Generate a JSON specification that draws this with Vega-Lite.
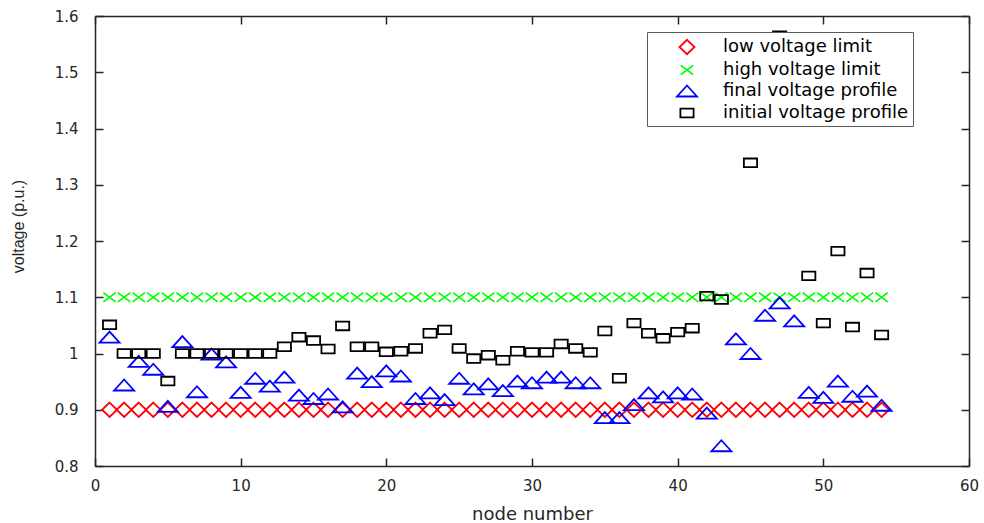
{
  "$schema": "https://vega.github.io/schema/vega-lite/v6.json",
  "width": 874,
  "height": 450,
  "autosize": {"type": "none"},
  "padding": {"left": 95, "top": 16, "right": 15, "bottom": 57},
  "background": "white",
  "config": {
    "view": {"stroke": null},
    "axis": {"grid": false, "domainColor": "#262626", "domainWidth": 1.5, "tickColor": "#262626", "tickWidth": 1.5, "tickSize": -8, "labelColor": "#262626", "titleColor": "#262626", "labelFont": "DejaVu Sans", "labelFontSize": 15, "titleFontWeight": "normal"}
  },
  "data": {"values": [
    {"n":1,"v":0.9,"s":"low voltage limit"},{"n":2,"v":0.9,"s":"low voltage limit"},{"n":3,"v":0.9,"s":"low voltage limit"},{"n":4,"v":0.9,"s":"low voltage limit"},{"n":5,"v":0.9,"s":"low voltage limit"},{"n":6,"v":0.9,"s":"low voltage limit"},{"n":7,"v":0.9,"s":"low voltage limit"},{"n":8,"v":0.9,"s":"low voltage limit"},{"n":9,"v":0.9,"s":"low voltage limit"},{"n":10,"v":0.9,"s":"low voltage limit"},
    {"n":11,"v":0.9,"s":"low voltage limit"},{"n":12,"v":0.9,"s":"low voltage limit"},{"n":13,"v":0.9,"s":"low voltage limit"},{"n":14,"v":0.9,"s":"low voltage limit"},{"n":15,"v":0.9,"s":"low voltage limit"},{"n":16,"v":0.9,"s":"low voltage limit"},{"n":17,"v":0.9,"s":"low voltage limit"},{"n":18,"v":0.9,"s":"low voltage limit"},{"n":19,"v":0.9,"s":"low voltage limit"},{"n":20,"v":0.9,"s":"low voltage limit"},
    {"n":21,"v":0.9,"s":"low voltage limit"},{"n":22,"v":0.9,"s":"low voltage limit"},{"n":23,"v":0.9,"s":"low voltage limit"},{"n":24,"v":0.9,"s":"low voltage limit"},{"n":25,"v":0.9,"s":"low voltage limit"},{"n":26,"v":0.9,"s":"low voltage limit"},{"n":27,"v":0.9,"s":"low voltage limit"},{"n":28,"v":0.9,"s":"low voltage limit"},{"n":29,"v":0.9,"s":"low voltage limit"},{"n":30,"v":0.9,"s":"low voltage limit"},
    {"n":31,"v":0.9,"s":"low voltage limit"},{"n":32,"v":0.9,"s":"low voltage limit"},{"n":33,"v":0.9,"s":"low voltage limit"},{"n":34,"v":0.9,"s":"low voltage limit"},{"n":35,"v":0.9,"s":"low voltage limit"},{"n":36,"v":0.9,"s":"low voltage limit"},{"n":37,"v":0.9,"s":"low voltage limit"},{"n":38,"v":0.9,"s":"low voltage limit"},{"n":39,"v":0.9,"s":"low voltage limit"},{"n":40,"v":0.9,"s":"low voltage limit"},
    {"n":41,"v":0.9,"s":"low voltage limit"},{"n":42,"v":0.9,"s":"low voltage limit"},{"n":43,"v":0.9,"s":"low voltage limit"},{"n":44,"v":0.9,"s":"low voltage limit"},{"n":45,"v":0.9,"s":"low voltage limit"},{"n":46,"v":0.9,"s":"low voltage limit"},{"n":47,"v":0.9,"s":"low voltage limit"},{"n":48,"v":0.9,"s":"low voltage limit"},{"n":49,"v":0.9,"s":"low voltage limit"},{"n":50,"v":0.9,"s":"low voltage limit"},
    {"n":51,"v":0.9,"s":"low voltage limit"},{"n":52,"v":0.9,"s":"low voltage limit"},{"n":53,"v":0.9,"s":"low voltage limit"},{"n":54,"v":0.9,"s":"low voltage limit"},
    {"n":1,"v":1.1,"s":"high voltage limit"},{"n":2,"v":1.1,"s":"high voltage limit"},{"n":3,"v":1.1,"s":"high voltage limit"},{"n":4,"v":1.1,"s":"high voltage limit"},{"n":5,"v":1.1,"s":"high voltage limit"},{"n":6,"v":1.1,"s":"high voltage limit"},{"n":7,"v":1.1,"s":"high voltage limit"},{"n":8,"v":1.1,"s":"high voltage limit"},{"n":9,"v":1.1,"s":"high voltage limit"},{"n":10,"v":1.1,"s":"high voltage limit"},
    {"n":11,"v":1.1,"s":"high voltage limit"},{"n":12,"v":1.1,"s":"high voltage limit"},{"n":13,"v":1.1,"s":"high voltage limit"},{"n":14,"v":1.1,"s":"high voltage limit"},{"n":15,"v":1.1,"s":"high voltage limit"},{"n":16,"v":1.1,"s":"high voltage limit"},{"n":17,"v":1.1,"s":"high voltage limit"},{"n":18,"v":1.1,"s":"high voltage limit"},{"n":19,"v":1.1,"s":"high voltage limit"},{"n":20,"v":1.1,"s":"high voltage limit"},
    {"n":21,"v":1.1,"s":"high voltage limit"},{"n":22,"v":1.1,"s":"high voltage limit"},{"n":23,"v":1.1,"s":"high voltage limit"},{"n":24,"v":1.1,"s":"high voltage limit"},{"n":25,"v":1.1,"s":"high voltage limit"},{"n":26,"v":1.1,"s":"high voltage limit"},{"n":27,"v":1.1,"s":"high voltage limit"},{"n":28,"v":1.1,"s":"high voltage limit"},{"n":29,"v":1.1,"s":"high voltage limit"},{"n":30,"v":1.1,"s":"high voltage limit"},
    {"n":31,"v":1.1,"s":"high voltage limit"},{"n":32,"v":1.1,"s":"high voltage limit"},{"n":33,"v":1.1,"s":"high voltage limit"},{"n":34,"v":1.1,"s":"high voltage limit"},{"n":35,"v":1.1,"s":"high voltage limit"},{"n":36,"v":1.1,"s":"high voltage limit"},{"n":37,"v":1.1,"s":"high voltage limit"},{"n":38,"v":1.1,"s":"high voltage limit"},{"n":39,"v":1.1,"s":"high voltage limit"},{"n":40,"v":1.1,"s":"high voltage limit"},
    {"n":41,"v":1.1,"s":"high voltage limit"},{"n":42,"v":1.1,"s":"high voltage limit"},{"n":43,"v":1.1,"s":"high voltage limit"},{"n":44,"v":1.1,"s":"high voltage limit"},{"n":45,"v":1.1,"s":"high voltage limit"},{"n":46,"v":1.1,"s":"high voltage limit"},{"n":47,"v":1.1,"s":"high voltage limit"},{"n":48,"v":1.1,"s":"high voltage limit"},{"n":49,"v":1.1,"s":"high voltage limit"},{"n":50,"v":1.1,"s":"high voltage limit"},
    {"n":51,"v":1.1,"s":"high voltage limit"},{"n":52,"v":1.1,"s":"high voltage limit"},{"n":53,"v":1.1,"s":"high voltage limit"},{"n":54,"v":1.1,"s":"high voltage limit"},
    {"n":1,"v":1.029,"s":"final voltage profile"},{"n":2,"v":0.944,"s":"final voltage profile"},{"n":3,"v":0.986,"s":"final voltage profile"},{"n":4,"v":0.972,"s":"final voltage profile"},{"n":5,"v":0.906,"s":"final voltage profile"},{"n":6,"v":1.021,"s":"final voltage profile"},{"n":7,"v":0.932,"s":"final voltage profile"},{"n":8,"v":0.999,"s":"final voltage profile"},{"n":9,"v":0.985,"s":"final voltage profile"},{"n":10,"v":0.931,"s":"final voltage profile"},
    {"n":11,"v":0.956,"s":"final voltage profile"},{"n":12,"v":0.942,"s":"final voltage profile"},{"n":13,"v":0.958,"s":"final voltage profile"},{"n":14,"v":0.926,"s":"final voltage profile"},{"n":15,"v":0.92,"s":"final voltage profile"},{"n":16,"v":0.928,"s":"final voltage profile"},{"n":17,"v":0.905,"s":"final voltage profile"},{"n":18,"v":0.965,"s":"final voltage profile"},{"n":19,"v":0.95,"s":"final voltage profile"},{"n":20,"v":0.969,"s":"final voltage profile"},
    {"n":21,"v":0.96,"s":"final voltage profile"},{"n":22,"v":0.92,"s":"final voltage profile"},{"n":23,"v":0.93,"s":"final voltage profile"},{"n":24,"v":0.918,"s":"final voltage profile"},{"n":25,"v":0.956,"s":"final voltage profile"},{"n":26,"v":0.937,"s":"final voltage profile"},{"n":27,"v":0.946,"s":"final voltage profile"},{"n":28,"v":0.934,"s":"final voltage profile"},{"n":29,"v":0.951,"s":"final voltage profile"},{"n":30,"v":0.948,"s":"final voltage profile"},
    {"n":31,"v":0.958,"s":"final voltage profile"},{"n":32,"v":0.958,"s":"final voltage profile"},{"n":33,"v":0.948,"s":"final voltage profile"},{"n":34,"v":0.948,"s":"final voltage profile"},{"n":35,"v":0.886,"s":"final voltage profile"},{"n":36,"v":0.886,"s":"final voltage profile"},{"n":37,"v":0.909,"s":"final voltage profile"},{"n":38,"v":0.93,"s":"final voltage profile"},{"n":39,"v":0.923,"s":"final voltage profile"},{"n":40,"v":0.93,"s":"final voltage profile"},
    {"n":41,"v":0.928,"s":"final voltage profile"},{"n":42,"v":0.894,"s":"final voltage profile"},{"n":43,"v":0.836,"s":"final voltage profile"},{"n":44,"v":1.026,"s":"final voltage profile"},{"n":45,"v":1.0,"s":"final voltage profile"},{"n":46,"v":1.068,"s":"final voltage profile"},{"n":47,"v":1.09,"s":"final voltage profile"},{"n":48,"v":1.058,"s":"final voltage profile"},{"n":49,"v":0.931,"s":"final voltage profile"},{"n":50,"v":0.922,"s":"final voltage profile"},
    {"n":51,"v":0.951,"s":"final voltage profile"},{"n":52,"v":0.924,"s":"final voltage profile"},{"n":53,"v":0.933,"s":"final voltage profile"},{"n":54,"v":0.908,"s":"final voltage profile"},
    {"n":1,"v":1.051,"s":"initial voltage profile"},{"n":2,"v":1.0,"s":"initial voltage profile"},{"n":3,"v":1.0,"s":"initial voltage profile"},{"n":4,"v":1.0,"s":"initial voltage profile"},{"n":5,"v":0.951,"s":"initial voltage profile"},{"n":6,"v":1.0,"s":"initial voltage profile"},{"n":7,"v":1.0,"s":"initial voltage profile"},{"n":8,"v":1.0,"s":"initial voltage profile"},{"n":9,"v":1.0,"s":"initial voltage profile"},{"n":10,"v":1.0,"s":"initial voltage profile"},
    {"n":11,"v":1.0,"s":"initial voltage profile"},{"n":12,"v":1.0,"s":"initial voltage profile"},{"n":13,"v":1.012,"s":"initial voltage profile"},{"n":14,"v":1.029,"s":"initial voltage profile"},{"n":15,"v":1.023,"s":"initial voltage profile"},{"n":16,"v":1.008,"s":"initial voltage profile"},{"n":17,"v":1.049,"s":"initial voltage profile"},{"n":18,"v":1.012,"s":"initial voltage profile"},{"n":19,"v":1.012,"s":"initial voltage profile"},{"n":20,"v":1.003,"s":"initial voltage profile"},
    {"n":21,"v":1.004,"s":"initial voltage profile"},{"n":22,"v":1.009,"s":"initial voltage profile"},{"n":23,"v":1.036,"s":"initial voltage profile"},{"n":24,"v":1.042,"s":"initial voltage profile"},{"n":25,"v":1.009,"s":"initial voltage profile"},{"n":26,"v":0.991,"s":"initial voltage profile"},{"n":27,"v":0.997,"s":"initial voltage profile"},{"n":28,"v":0.988,"s":"initial voltage profile"},{"n":29,"v":1.004,"s":"initial voltage profile"},{"n":30,"v":1.002,"s":"initial voltage profile"},
    {"n":31,"v":1.002,"s":"initial voltage profile"},{"n":32,"v":1.017,"s":"initial voltage profile"},{"n":33,"v":1.009,"s":"initial voltage profile"},{"n":34,"v":1.002,"s":"initial voltage profile"},{"n":35,"v":1.04,"s":"initial voltage profile"},{"n":36,"v":0.956,"s":"initial voltage profile"},{"n":37,"v":1.054,"s":"initial voltage profile"},{"n":38,"v":1.036,"s":"initial voltage profile"},{"n":39,"v":1.027,"s":"initial voltage profile"},{"n":40,"v":1.038,"s":"initial voltage profile"},
    {"n":41,"v":1.045,"s":"initial voltage profile"},{"n":42,"v":1.102,"s":"initial voltage profile"},{"n":43,"v":1.096,"s":"initial voltage profile"},{"n":45,"v":1.339,"s":"initial voltage profile"},{"n":47,"v":1.565,"s":"initial voltage profile"},{"n":49,"v":1.138,"s":"initial voltage profile"},{"n":50,"v":1.054,"s":"initial voltage profile"},
    {"n":51,"v":1.182,"s":"initial voltage profile"},{"n":52,"v":1.047,"s":"initial voltage profile"},{"n":53,"v":1.143,"s":"initial voltage profile"},{"n":54,"v":1.033,"s":"initial voltage profile"}
  ]},
  "layer": [
    {
      "mark": {"type": "point", "filled": false, "strokeWidth": 1.8, "size": 400, "opacity": 1, "clip": true},
      "encoding": {
        "x": {"field": "n", "type": "quantitative", "scale": {"domain": [0, 60], "nice": false},
          "axis": {"orient": "bottom", "values": [0,10,20,30,40,50,60], "title": "node number", "titleFont": "DejaVu Sans", "titleFontSize": 18, "titleBaseline": "alphabetic", "titleY": 53, "labelPadding": 20, "labelFlush": false}},
        "y": {"field": "v", "type": "quantitative", "scale": {"domain": [0.8, 1.6], "nice": false, "zero": false},
          "axis": {"orient": "left", "values": [0.8,0.9,1.0,1.1,1.2,1.3,1.4,1.5,1.6], "format": "~g", "title": "voltage (p.u.)", "titleFont": "Liberation Sans", "titleFontSize": 16, "titleAngle": -90, "titleAlign": "center", "titleBaseline": "middle", "titleX": -77, "titleY": 210, "labelPadding": 25, "labelFlush": false}},
        "color": {"field": "s", "type": "nominal",
          "scale": {"domain": ["low voltage limit", "high voltage limit", "final voltage profile", "initial voltage profile"], "range": ["#ff0000", "#00ff00", "#0000ff", "#000000"]},
          "legend": {"orient": "none", "legendX": 552, "legendY": 16, "title": null, "strokeColor": "#5a5a5a", "fillColor": "white", "padding": 4, "symbolOffset": 25, "labelOffset": 25, "symbolSize": 400, "symbolStrokeWidth": 1.8, "labelFont": "DejaVu Sans", "labelFontSize": 18, "labelColor": "#000000", "rowPadding": 1, "labelLimit": 400}},
        "shape": {"field": "s", "type": "nominal",
          "scale": {"domain": ["low voltage limit", "high voltage limit", "final voltage profile", "initial voltage profile"],
            "range": ["M0,-0.72L0.75,0L0,0.72L-0.75,0Z", "M-0.62,-0.46L0.62,0.46M-0.62,0.46L0.62,-0.46", "M0,-0.55L1,0.55L-1,0.55Z", "M-0.66,-0.43L0.66,-0.43L0.66,0.43L-0.66,0.43Z"]}}
      }
    },
    {
      "mark": {"type": "point", "opacity": 0},
      "encoding": {
        "x": {"field": "n", "type": "quantitative", "axis": {"orient": "top", "values": [0,10,20,30,40,50,60], "labels": false, "title": null}},
        "y": {"field": "v", "type": "quantitative", "axis": {"orient": "right", "values": [0.8,0.9,1.0,1.1,1.2,1.3,1.4,1.5,1.6], "labels": false, "title": null}}
      }
    }
  ],
  "resolve": {"axis": {"x": "independent", "y": "independent"}}
}
